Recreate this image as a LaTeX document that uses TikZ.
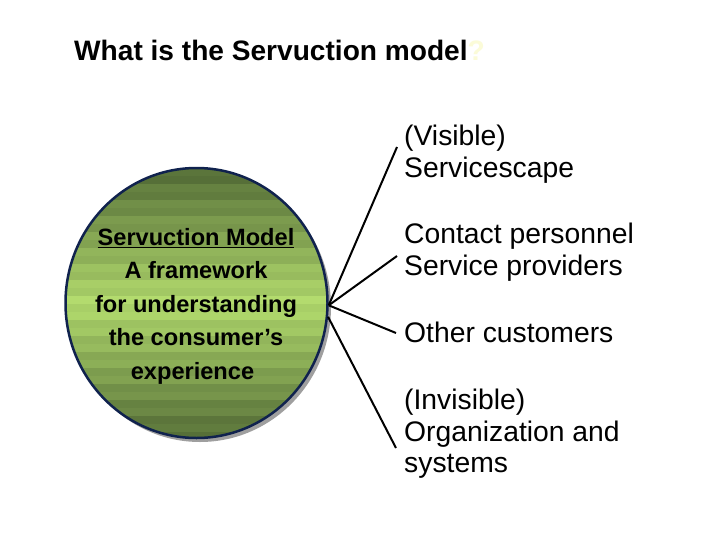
\documentclass[tikz,border=0pt]{standalone}
\usepackage{fontspec}
\usetikzlibrary{shapes.geometric}
\setmainfont{Liberation Sans}
\definecolor{rimblue}{HTML}{10224E}
\definecolor{banddark}{HTML}{566F38}
\definecolor{bandlight}{HTML}{B0D86C}
\definecolor{palemark}{HTML}{FBFBD8}
\tikzset{
	bandfill/.style = {fill=bandlight!#1!banddark, draw=none},
	itemtext/.style = {anchor=north west, align=left, inner sep=0pt, font=\fontsize{28.3}{31.5}\selectfont},
	spoke/.style = {draw=black, line width=2pt},
}
\begin{document}
\begin{tikzpicture}[x=1pt,y=-1pt]
	\useasboundingbox (0,0) rectangle (728,546);
	\fill[white] (0,0) rectangle (728,546);
	\node[anchor=base west, inner sep=0pt, font=\fontsize{28.1}{32}\selectfont\bfseries] (title) at (74,60) {What is the Servuction model\textcolor{palemark}{?}};
	% shadow, then the striped disc
	\fill[gray!75] (200,307) ellipse (131 and 135);
	\begin{scope}
		\clip (196.5,303) ellipse (131 and 135);
		\foreach \n in {0,...,33}{
			\pgfmathsetmacro{\pos}{abs(\n-16.5)/16.5}
			\pgfmathsetmacro{\mixval}{max(0,100*(1-\pos)+(mod(\n,2)==0 ? 6 : -6))}
			\fill[bandfill=\mixval] (60,{168+\n*8}) rectangle (335,{168+(\n+1)*8});
		}
	\end{scope}
	\node[ellipse, draw=rimblue, line width=2.5pt, minimum width=262pt, minimum height=270pt, inner sep=0pt] (model) at (196.5,303) {};
	\node[inner sep=0pt, align=center, font=\fontsize{23.6}{33.5}\selectfont\bfseries] (modeltext) at (196,306)
		{\underline{Servuction Model}\\A framework\\for understanding\\the consumer’s\hspace*{7pt}\\experience\hspace*{7pt}};
	\node[itemtext] (visible) at (404,125) {(Visible)\\Servicescape};
	\node[itemtext] (contact) at (404,223) {Contact personnel\\Service providers};
	\node[itemtext] (others) at (404,322) {Other customers};
	\node[itemtext] (invisible) at (404,389) {(Invisible)\\Organization and\\systems};
	\coordinate (tipA) at (397,147);
	\coordinate (tipB) at (397,256);
	\coordinate (tipC) at (396,333);
	\coordinate (tipD) at (396,448);
	\draw[spoke] (model.-1) -- (tipA);
	\draw[spoke] (model.-1) -- (tipB);
	\draw[spoke] (model.-1) -- (tipC);
	\draw[spoke] (model.-6) -- (tipD);
\end{tikzpicture}
\end{document}
